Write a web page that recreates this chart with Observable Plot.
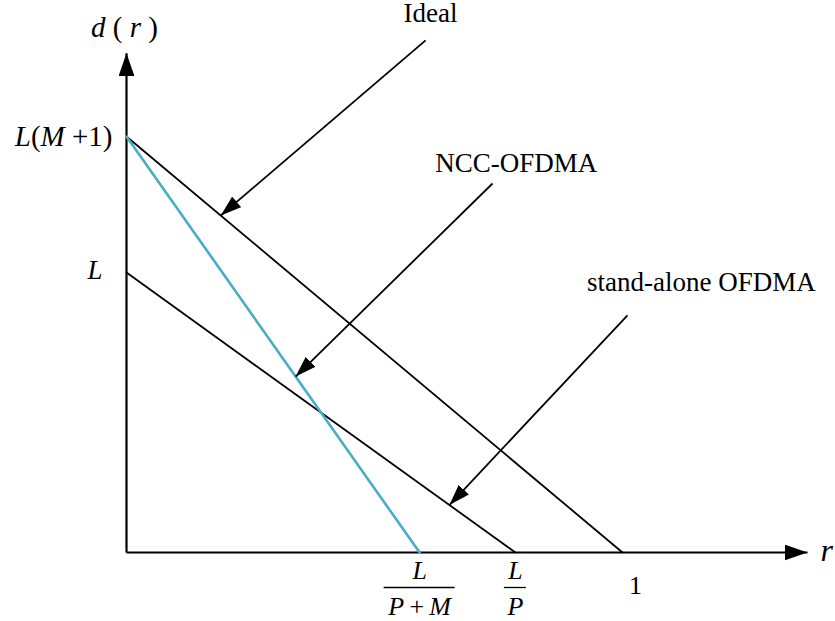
<!DOCTYPE html>
<html><head><meta charset="utf-8">
<script src="https://cdn.jsdelivr.net/npm/d3@7"></script>
<script src="https://cdn.jsdelivr.net/npm/@observablehq/plot@0.6"></script>
<style>
html,body{margin:0;padding:0;background:#fff;}
#chart svg{display:block;}
</style></head><body><div id="chart"></div>
<script>
// ---- data (normalised so that r: 0..1, d: 0..L(M+1)=1) ----
const lineNames = ["Ideal", "NCC-OFDMA", "stand-alone OFDMA"];
const lineStartD = [1.0, 1.0, 0.673];     // d(0): L(M+1), L(M+1), L
const lineEndR = [1.0, 0.591, 0.784];     // r-intercepts: 1, L/(P+M), L/P
const lineColors = ["#000000", "#4bacc6", "#000000"];
const lineWidths = [1.8, 2.6, 1.8];

const rTickValues = [0.591, 0.784, 1];
const rTickNumerators = ["*L*", "*L*", null];
const rTickDenominators = ["*P*\u2009+\u2009*M*", "*P*", null];
const rTickPlain = [null, null, "1"];

const dTickValues = [1.0, 0.673];
const dTickLabels = ["*L*(*M* +1)", "*L*"];

const axisEndR = 1.373;
const axisEndD = 1.2;

const pointerTipR = [0.19, 0.341, 0.651];
const pointerTipD = [0.81, 0.423, 0.114];
const pointerStartR = [0.603, 0.738, 1.010];
const pointerStartD = [1.231, 0.887, 0.570];
const labelR = [0.613, 0.786, 1.159];
const labelD = [1.295, 0.935, 0.650];

// ---- tables built from the arrays ----
const lineRows = lineNames.flatMap((name, i) => [
  {name, r: 0, d: lineStartD[i]},
  {name, r: lineEndR[i], d: 0}
]);
const pointers = lineNames.map((name, i) => ({
  name, r1: pointerStartR[i], d1: pointerStartD[i], r2: pointerTipR[i], d2: pointerTipD[i],
  lr: labelR[i], ld: labelD[i]
}));
const rTicks = rTickValues.map((v, i) => ({v, num: rTickNumerators[i], den: rTickDenominators[i], plain: rTickPlain[i]}));
const dTicks = dTickValues.map((v, i) => ({v, label: dTickLabels[i]}));
const axes = [
  {r1: 0, d1: 0, r2: axisEndR, d2: 0},
  {r1: 0, d1: 0, r2: 0, d2: axisEndD}
];

const xRange = [126, 622], yRange = [552, 136];
const pxPerR = (xRange[1] - xRange[0]) / 1;

function head(len, wid) {
  return (color) => {
    const m = d3.create("svg:marker")
      .attr("viewBox", `${-len} ${-wid / 2} ${len} ${wid}`)
      .attr("markerWidth", len).attr("markerHeight", wid)
      .attr("markerUnits", "userSpaceOnUse")
      .attr("refX", 0).attr("refY", 0)
      .attr("orient", "auto");
    m.append("path").attr("d", `M0,0L${-len},${-wid / 2}L${-len},${wid / 2}Z`).attr("fill", color).attr("stroke", "none");
    return m.node();
  };
}
let axisHead = head(23, 16), ptrHead = head(21, 14);
try { Plot.link([], {x1: "a", y1: "a", x2: "a", y2: "a", markerEnd: axisHead}); }
catch (e) { axisHead = "arrow"; ptrHead = "arrow"; }

const fracs = rTicks.filter(t => t.num);
const barHalfPx = [35.5, 11];

const chart = Plot.plot({
  width: 835, height: 621, margin: 0,
  x: {domain: [0, 1], range: xRange, axis: null},
  y: {domain: [0, 1], range: yRange, axis: null},
  style: {fontFamily: "'Liberation Serif', 'Times New Roman', serif", background: "#fff", color: "#000", overflow: "visible"},
  marks: [
    // axes with arrow heads
    Plot.link(axes, {x1: "r1", y1: "d1", x2: "r2", y2: "d2", stroke: "#000", strokeWidth: 2.2, markerEnd: axisHead}),
    // series lines (black first, blue on top)
    ...[0, 2, 1].map(i => Plot.line(lineRows.filter(d => d.name === lineNames[i]), {
      x: "r", y: "d", stroke: lineColors[i], strokeWidth: lineWidths[i]
    })),
    // pointer arrows and their labels
    Plot.link(pointers, {x1: "r1", y1: "d1", x2: "r2", y2: "d2", stroke: "#000", strokeWidth: 1.8, markerEnd: ptrHead}),
    Plot.text(pointers, {x: "lr", y: "ld", text: "name", fontSize: 27, textAnchor: "middle", fill: "#000"}),
    // r tick labels (fractions)
    Plot.text(fracs, {x: "v", y: () => 0, text: "num", dy: 18, fontSize: 26, fill: "#000"}),
    Plot.ruleY(fracs, {y: () => 0, x1: (t, i) => t.v - barHalfPx[i] / pxPerR, x2: (t, i) => t.v + barHalfPx[i] / pxPerR, dy: 35, stroke: "#000", strokeWidth: 1.3}),
    Plot.text(fracs, {x: "v", y: () => 0, text: "den", dy: 54, fontSize: 26, fill: "#000"}),
    Plot.text(rTicks.filter(t => t.plain), {x: "v", y: () => 0, text: "plain", dx: 13, dy: 33, fontSize: 26, fill: "#000"}),
    // d tick labels
    Plot.text(dTicks.slice(0, 1), {x: () => 0, y: "v", text: "label", textAnchor: "end", dx: -14, fontSize: 29, fill: "#000"}),
    Plot.text(dTicks.slice(1), {x: () => 0, y: "v", text: "label", textAnchor: "end", dx: -24, dy: -2, fontSize: 27, fill: "#000"}),
    // axis titles
    Plot.text(["*r*"], {x: () => axisEndR, y: () => 0, text: d => d, textAnchor: "start", dx: 13, dy: -2, fontSize: 32, fill: "#000"}),
    Plot.text(["*d* ( *r* )"], {x: () => 0, y: () => axisEndD, text: d => d, dx: -2, dy: -26, fontSize: 29, fill: "#000"})
  ]
});

// italicise the math letters marked with *...*
const NS = "http://www.w3.org/2000/svg";
chart.querySelectorAll("text").forEach(t => {
  const s = t.textContent;
  if (!s.includes("*")) return;
  while (t.firstChild) t.removeChild(t.firstChild);
  s.split("*").forEach((part, i) => {
    if (!part) return;
    const ts = document.createElementNS(NS, "tspan");
    if (i % 2 === 1) ts.setAttribute("font-style", "italic");
    ts.textContent = part;
    t.appendChild(ts);
  });
});
document.getElementById("chart").appendChild(chart);
</script></body></html>
